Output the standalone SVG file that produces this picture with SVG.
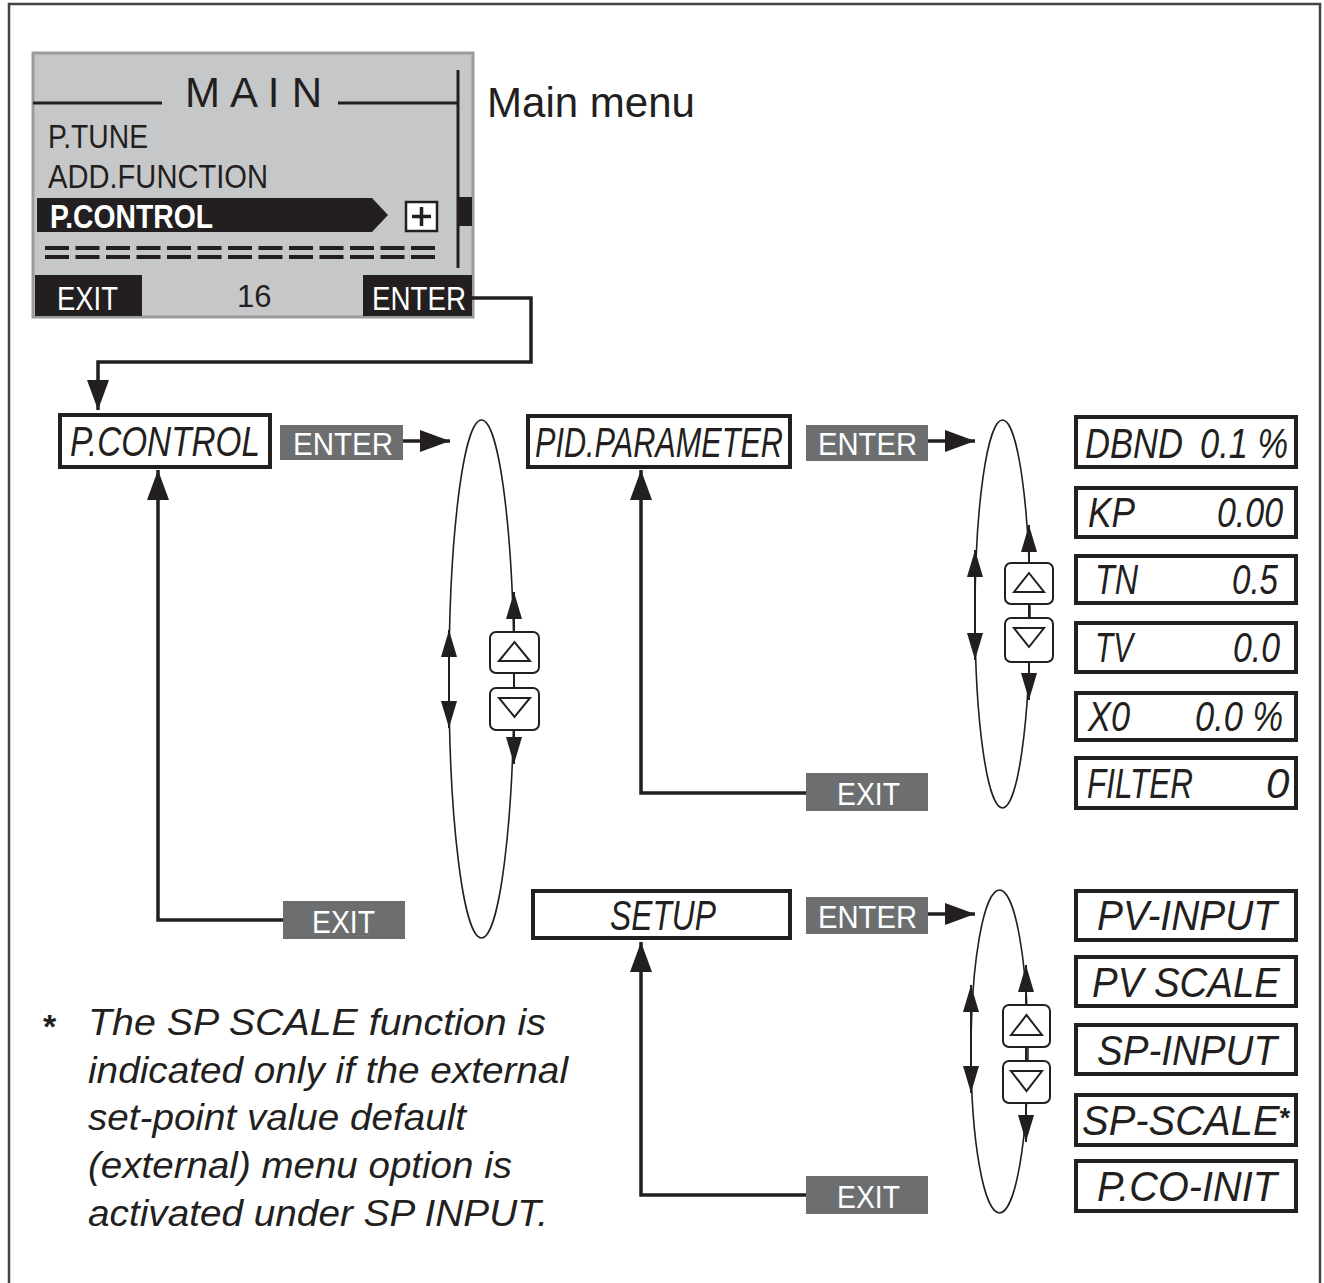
<svg xmlns="http://www.w3.org/2000/svg" width="1324" height="1283" viewBox="0 0 1324 1283">
<style>
.frame{fill:none;stroke:#444;stroke-width:2.5}
.lcdt{font-family:"Liberation Sans",Arial,sans-serif;fill:#231f20}
.wt{font-family:"Liberation Sans",Arial,sans-serif;fill:#fff}
.box{fill:#fff;stroke:#231f20;stroke-width:4}
.bt{font-family:"Liberation Sans",Arial,sans-serif;font-style:italic;font-size:42px;fill:#231f20}
.lab{fill:#6d6e70}
.labt{font-family:"Liberation Sans",Arial,sans-serif;font-size:31px;fill:#fff}
.conn{fill:none;stroke:#231f20;stroke-width:3.5}
.ell{fill:none;stroke:#231f20;stroke-width:1.6}
.thin{fill:none;stroke:#231f20;stroke-width:2}
.btn{fill:#fff;stroke:#231f20;stroke-width:2}
.tri{fill:#fff;stroke:#231f20;stroke-width:2;stroke-linejoin:miter}
.note{font-family:"Liberation Sans",Arial,sans-serif;font-style:italic;font-size:37px;fill:#231f20}
</style>
<defs>
<marker id="ah" markerUnits="userSpaceOnUse" markerWidth="30" markerHeight="22" refX="30" refY="11" orient="auto-start-reverse" viewBox="0 0 30 22"><path d="M0,0 L30,11 L0,22 z" fill="#231f20"/></marker>
<marker id="sh" markerUnits="userSpaceOnUse" markerWidth="27" markerHeight="16" refX="27" refY="8" orient="auto-start-reverse" viewBox="0 0 27 16"><path d="M0,0 L27,8 L0,16 z" fill="#231f20"/></marker>
</defs>
<rect width="1324" height="1283" fill="#fff"/>
<path class="frame" d="M9,1283 V4 H1320 V1283"/>

<g id="main-lcd">
<rect x="33" y="53" width="440" height="264" fill="#c6c7c9" stroke="#9a9b9d" stroke-width="3"/>
<line x1="33" y1="103" x2="162" y2="103" stroke="#231f20" stroke-width="3"/>
<line x1="338" y1="103" x2="458" y2="103" stroke="#231f20" stroke-width="3"/>
<text class="lcdt" x="185" y="107" font-size="42" textLength="137" lengthAdjust="spacing">M A I N</text>
<line x1="458" y1="70" x2="458" y2="268" stroke="#231f20" stroke-width="3"/>
<rect x="458" y="197" width="14" height="29" fill="#231f20"/>
<text class="lcdt" x="48" y="148" font-size="34" textLength="100" lengthAdjust="spacingAndGlyphs">P.TUNE</text>
<text class="lcdt" x="48" y="188" font-size="34" textLength="220" lengthAdjust="spacingAndGlyphs">ADD.FUNCTION</text>
<polygon points="37,198 372,198 388,215 372,232 37,232" fill="#231f20"/>
<text class="wt" x="50" y="228" font-size="33" font-weight="bold" textLength="163" lengthAdjust="spacingAndGlyphs">P.CONTROL</text>
<rect x="406" y="202" width="31" height="29" fill="#fff" stroke="#231f20" stroke-width="2.5"/>
<path d="M421.5,207 V226 M412,216.5 H431" stroke="#231f20" stroke-width="3.5"/>
<line x1="45" y1="248" x2="440" y2="248" stroke="#231f20" stroke-width="4" stroke-dasharray="24 6.5"/>
<line x1="45" y1="257" x2="440" y2="257" stroke="#231f20" stroke-width="4" stroke-dasharray="24 6.5"/>
<rect x="35" y="275" width="107" height="41" fill="#231f20"/>
<text class="wt" x="57" y="310" font-size="33" textLength="61" lengthAdjust="spacingAndGlyphs">EXIT</text>
<text class="lcdt" x="237" y="307" font-size="31">16</text>
<rect x="363" y="275" width="109" height="41" fill="#231f20"/>
<text class="wt" x="372" y="310" font-size="33" textLength="94" lengthAdjust="spacingAndGlyphs">ENTER</text>
</g>
<g id="main-menu-label"><text x="487" y="117" font-family="Liberation Sans,Arial,sans-serif" font-size="42" fill="#231f20" textLength="208" lengthAdjust="spacingAndGlyphs">Main menu</text></g>

<g id="connectors">
<path class="conn" d="M472,298 H531 V362 H98 V410" marker-end="url(#ah)"/>
<path class="conn" d="M403,441 H450" marker-end="url(#ah)"/>
<path class="conn" d="M283,920 H158 V470" marker-end="url(#ah)"/>
<path class="conn" d="M928,441 H975" marker-end="url(#ah)"/>
<path class="conn" d="M806,793 H641 V470" marker-end="url(#ah)"/>
<path class="conn" d="M928,914 H975" marker-end="url(#ah)"/>
<path class="conn" d="M806,1195 H641 V942" marker-end="url(#ah)"/>
</g>

<g id="cycle-1">
<ellipse class="ell" cx="481.5" cy="679" rx="32.5" ry="259"/>
<line class="thin" x1="449" y1="630" x2="449" y2="728" marker-start="url(#sh)" marker-end="url(#sh)"/>
<line class="thin" x1="514" y1="632" x2="514" y2="592" marker-end="url(#sh)"/>
<line class="thin" x1="514" y1="673" x2="514" y2="687"/>
<line class="thin" x1="514" y1="730" x2="514" y2="764" marker-end="url(#sh)"/>
<rect class="btn" x="490" y="632" width="49" height="41" rx="6"/>
<polygon class="tri" points="499,661 514.5,642 530,661"/>
<rect class="btn" x="490" y="688" width="49" height="42" rx="6"/>
<polygon class="tri" points="499,698 530,698 514.5,717"/>
</g>

<g id="cycle-2">
<ellipse class="ell" cx="1002.5" cy="614" rx="27.5" ry="194"/>
<line class="thin" x1="975" y1="550" x2="975" y2="660" marker-start="url(#sh)" marker-end="url(#sh)"/>
<line class="thin" x1="1029" y1="563" x2="1029" y2="525" marker-end="url(#sh)"/>
<line class="thin" x1="1029" y1="604" x2="1029" y2="618"/>
<line class="thin" x1="1029" y1="662" x2="1029" y2="700" marker-end="url(#sh)"/>
<rect class="btn" x="1005" y="563" width="48" height="41" rx="6"/>
<polygon class="tri" points="1014,592 1029,573 1044,592"/>
<rect class="btn" x="1005" y="618" width="48" height="44" rx="6"/>
<polygon class="tri" points="1014,628 1044,628 1029,647"/>
</g>

<g id="cycle-3">
<ellipse class="ell" cx="999.5" cy="1051.5" rx="28.5" ry="161.5"/>
<line class="thin" x1="971" y1="985" x2="971" y2="1093" marker-start="url(#sh)" marker-end="url(#sh)"/>
<line class="thin" x1="1026" y1="1005" x2="1026" y2="965" marker-end="url(#sh)"/>
<line class="thin" x1="1026" y1="1047" x2="1026" y2="1061"/>
<line class="thin" x1="1026" y1="1103" x2="1026" y2="1142" marker-end="url(#sh)"/>
<rect class="btn" x="1003" y="1005" width="47" height="42" rx="6"/>
<polygon class="tri" points="1011,1035 1026.5,1015 1042,1035"/>
<rect class="btn" x="1003" y="1061" width="47" height="42" rx="6"/>
<polygon class="tri" points="1011,1071 1042,1071 1026.5,1091"/>
</g>

<g id="p-control">
<rect class="box" x="60" y="415" width="210" height="52"/>
<text class="bt" x="70" y="456" textLength="190" lengthAdjust="spacingAndGlyphs">P.CONTROL</text>
</g>
<g id="enter-1"><rect class="lab" x="280" y="425" width="123" height="35"/><text class="labt" x="293" y="455" textLength="100" lengthAdjust="spacingAndGlyphs">ENTER</text></g>
<g id="exit-1"><rect class="lab" x="283" y="901" width="122" height="38"/><text class="labt" x="312" y="933" textLength="63" lengthAdjust="spacingAndGlyphs">EXIT</text></g>

<g id="pid-parameter">
<rect class="box" x="528" y="416" width="262" height="51"/>
<text class="bt" x="535" y="457" textLength="248" lengthAdjust="spacingAndGlyphs">PID.PARAMETER</text>
</g>
<g id="enter-2"><rect class="lab" x="806" y="425" width="122" height="36"/><text class="labt" x="818" y="455" textLength="99" lengthAdjust="spacingAndGlyphs">ENTER</text></g>
<g id="exit-2"><rect class="lab" x="806" y="773" width="122" height="38"/><text class="labt" x="837" y="805" textLength="63" lengthAdjust="spacingAndGlyphs">EXIT</text></g>

<g id="setup">
<rect class="box" x="533" y="891" width="257" height="47"/>
<text class="bt" x="610" y="930" textLength="106" lengthAdjust="spacingAndGlyphs">SETUP</text>
</g>
<g id="enter-3"><rect class="lab" x="806" y="897" width="122" height="37"/><text class="labt" x="818" y="928" textLength="99" lengthAdjust="spacingAndGlyphs">ENTER</text></g>
<g id="exit-3"><rect class="lab" x="806" y="1176" width="122" height="38"/><text class="labt" x="837" y="1208" textLength="63" lengthAdjust="spacingAndGlyphs">EXIT</text></g>

<g id="dbnd"><rect class="box" x="1076" y="417" width="220" height="50"/><text class="bt" x="1085" y="458" textLength="98" lengthAdjust="spacingAndGlyphs">DBND</text><text class="bt" x="1200" y="458" textLength="88" lengthAdjust="spacingAndGlyphs">0.1 %</text></g>
<g id="kp"><rect class="box" x="1076" y="488" width="220" height="49"/><text class="bt" x="1088" y="527" textLength="47" lengthAdjust="spacingAndGlyphs">KP</text><text class="bt" x="1217" y="527" textLength="66" lengthAdjust="spacingAndGlyphs">0.00</text></g>
<g id="tn"><rect class="box" x="1076" y="556" width="220" height="47"/><text class="bt" x="1095" y="594" textLength="43" lengthAdjust="spacingAndGlyphs">TN</text><text class="bt" x="1232" y="594" textLength="46" lengthAdjust="spacingAndGlyphs">0.5</text></g>
<g id="tv"><rect class="box" x="1076" y="623" width="220" height="49"/><text class="bt" x="1095" y="662" textLength="38" lengthAdjust="spacingAndGlyphs">TV</text><text class="bt" x="1233" y="662" textLength="47" lengthAdjust="spacingAndGlyphs">0.0</text></g>
<g id="x0"><rect class="box" x="1076" y="693" width="220" height="47"/><text class="bt" x="1088" y="731" textLength="42" lengthAdjust="spacingAndGlyphs">X0</text><text class="bt" x="1195" y="731" textLength="88" lengthAdjust="spacingAndGlyphs">0.0 %</text></g>
<g id="filter"><rect class="box" x="1076" y="758" width="220" height="50"/><text class="bt" x="1087" y="798" textLength="106" lengthAdjust="spacingAndGlyphs">FILTER</text><text class="bt" x="1266" y="798">0</text></g>

<g id="pv-input"><rect class="box" x="1076" y="891" width="220" height="49"/><text class="bt" x="1097" y="930" textLength="180" lengthAdjust="spacingAndGlyphs">PV-INPUT</text></g>
<g id="pv-scale"><rect class="box" x="1076" y="957" width="220" height="49"/><text class="bt" x="1092" y="997" textLength="188" lengthAdjust="spacingAndGlyphs">PV SCALE</text></g>
<g id="sp-input"><rect class="box" x="1076" y="1025" width="220" height="49"/><text class="bt" x="1097" y="1065" textLength="180" lengthAdjust="spacingAndGlyphs">SP-INPUT</text></g>
<g id="sp-scale"><rect class="box" x="1076" y="1095" width="220" height="50"/><text class="bt" x="1082" y="1135" textLength="208" lengthAdjust="spacingAndGlyphs">SP-SCALE<tspan font-style="normal" font-weight="bold" font-size="28" dy="-8">*</tspan></text></g>
<g id="p-co-init"><rect class="box" x="1076" y="1161" width="220" height="50"/><text class="bt" x="1097" y="1201" textLength="180" lengthAdjust="spacingAndGlyphs">P.CO-INIT</text></g>

<g id="footnote">
<text x="43" y="1038" font-family="Liberation Sans,Arial,sans-serif" font-weight="bold" font-size="34" fill="#231f20">*</text>
<text class="note" x="88" y="1035" textLength="458" lengthAdjust="spacingAndGlyphs">The SP SCALE function is</text>
<text class="note" x="88" y="1083" textLength="480" lengthAdjust="spacingAndGlyphs">indicated only if the external</text>
<text class="note" x="88" y="1130" textLength="378" lengthAdjust="spacingAndGlyphs">set-point value default</text>
<text class="note" x="88" y="1178" textLength="424" lengthAdjust="spacingAndGlyphs">(external) menu option is</text>
<text class="note" x="88" y="1226" textLength="460" lengthAdjust="spacingAndGlyphs">activated under SP INPUT.</text>
</g>
</svg>
